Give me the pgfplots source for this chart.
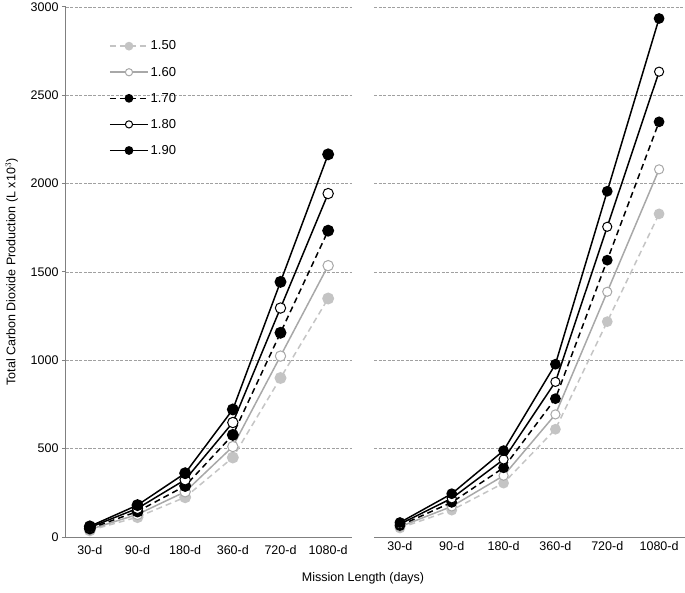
\documentclass[border=0pt]{standalone}
\usepackage{pgfplots}
\pgfplotsset{compat=1.18}
\usepackage{pgfplotstable}
\usepackage{fontspec}
\setmainfont{Liberation Sans}
\definecolor{gA}{HTML}{C4C4C4}
\definecolor{gB}{HTML}{A8A8A8}
\definecolor{axg}{HTML}{808080}
\definecolor{grd}{HTML}{A0A0A0}

\pgfplotstableread{
x  a     b     c     d     e
0  37.5  42.7  48.2  54.0  60.2
1  112.5 128   144.5 162   180.5
2  225   256   289   324   361
3  450   512   578   648   722
4  900   1024  1156  1296  1444
5  1350  1536  1734  1944  2166
}\leftdata
\pgfplotstableread{
x  a     b     c     d     e
0  51    58    65    73    82
1  152   173   196   219   245
2  305   347   392   439   489
3  610   694   783   878   978
4  1219  1388  1567  1756  1957
5  1829  2081  2350  2634  2935
}\rightdata

\pgfplotsset{
  s150/.style={color=gA, line width=1.5pt, dash pattern=on 6pt off 4pt, mark=*, mark options={solid, fill=gA, draw=gA}},
  s160/.style={color=gB, line width=1.5pt, mark=*, mark options={solid, fill=white, draw=gB, line width=1pt}},
  s170/.style={color=black, line width=1.5pt, dash pattern=on 6pt off 4pt, mark=*, mark options={solid, fill=black}},
  s180/.style={color=black, line width=1.5pt, mark=*, mark options={solid, fill=white, draw=black, line width=1pt}},
  s190/.style={color=black, line width=1.5pt, mark=*, mark options={solid, fill=black}},
  common/.style={
    scale only axis, height=530pt,
    xmin=-0.5, xmax=5.5, ymin=0, ymax=3000,
    xtick={0,1,2,3,4,5},
    xticklabels={30-d,90-d,180-d,360-d,720-d,1080-d},
    ytick={0,500,1000,1500,2000,2500,3000},
    axis x line*=bottom, axis y line*=left,
    x axis line style={axg, line width=1pt},
    y axis line style={axg, line width=1pt},
    major x tick style={draw=none},
    ymajorgrids, grid style={grd, dash pattern=on 3pt off 1.5pt, line width=0.6pt},
    tick label style={font=\fontsize{12.5}{14}\selectfont},
    /pgf/number format/assume math mode=true,
    /pgf/number format/1000 sep={},
    xticklabel style={yshift=-1pt},
    clip=false,
  },
}

\begin{document}
\begin{tikzpicture}
\path[use as bounding box] (-66pt,-55pt) rectangle (619pt,537pt);
\begin{axis}[common, at={(0pt,0pt)}, anchor=south west, width=286pt,
  tick align=outside, major y tick style={axg, line width=1pt}, major tick length=4pt,
  ylabel={Total Carbon Dioxide Production (L x10$^{3}$)},
  ylabel style={font=\fontsize{12.5}{14}\selectfont, at={(axis description cs:-0.19,0.5)}, anchor=center},
  mark size=5.2pt,
  legend style={draw=none, fill=none, at={(axis description cs:0.14,0.944)}, anchor=north west,
    font=\fontsize{13}{15}\selectfont, row sep=11.5pt, cells={anchor=west}},
  legend image code/.code={\draw[mark repeat=2,mark phase=2,#1, mark size=3.6pt] plot coordinates {(0pt,0pt) (19pt,0pt) (38pt,0pt)};},
]
\addplot[s150] table[x=x,y=a]{\leftdata};
\addplot[s160] table[x=x,y=b]{\leftdata};
\addplot[s170] table[x=x,y=c]{\leftdata};
\addplot[s180] table[x=x,y=d]{\leftdata};
\addplot[s190] table[x=x,y=e]{\leftdata};
\legend{1.50,1.60,1.70,1.80,1.90}
\end{axis}
\begin{axis}[common, at={(308pt,0pt)}, anchor=south west, width=311pt,
  y axis line style={draw=none}, major y tick style={draw=none}, yticklabels={},
  mark size=4.6pt,
]
\addplot[s150] table[x=x,y=a]{\rightdata};
\addplot[s160] table[x=x,y=b]{\rightdata};
\addplot[s170] table[x=x,y=c]{\rightdata};
\addplot[s180] table[x=x,y=d]{\rightdata};
\addplot[s190] table[x=x,y=e]{\rightdata};
\end{axis}
\node[font=\fontsize{12.5}{14}\selectfont] at (297pt,-41pt) {Mission Length (days)};
\end{tikzpicture}
\end{document}
